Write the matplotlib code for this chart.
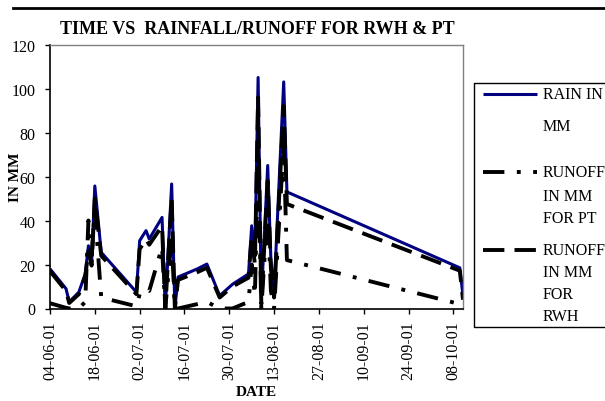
import numpy as np
import pandas as pd
import matplotlib
matplotlib.use('Agg')
import matplotlib.pyplot as plt
import matplotlib.dates as mdates
from matplotlib.lines import Line2D

matplotlib.rc('font', family='Liberation Serif', size=11.5)

# values (mm)
dates = ['2001-06-04', '2001-06-09', '2001-06-10', '2001-06-13', '2001-06-15',
         '2001-06-16', '2001-06-17', '2001-06-18', '2001-06-20', '2001-07-01',
         '2001-07-02', '2001-07-04', '2001-07-05', '2001-07-09', '2001-07-10',
         '2001-07-12', '2001-07-13', '2001-07-14', '2001-07-20', '2001-07-23',
         '2001-07-27', '2001-07-31', '2001-08-05', '2001-08-06', '2001-08-07',
         '2001-08-08', '2001-08-09', '2001-08-11', '2001-08-12', '2001-08-13',
         '2001-08-16', '2001-08-17', '2001-10-10', '2001-10-11']
rain = [18, 9, 3, 7.4, 15.7, 28.5, 21, 55.7, 25.5, 7.4,
        30.8, 35.4, 31.6, 41.4, 0, 56.6, 0, 14.3, 18, 20.2,
        5.8, 11, 15.7, 37.6, 24, 105, 4, 65, 22, 8,
        103, 53, 18.5, 5.8]
runoff_pt = [2.4, 0.3, 0, 0, 3, 40, 24, 45, 5, 1,
             6.5, 9, 8, 28, 0, 32, 0, 0, 2, 3,
             0, 0, 3, 20, 6, 70, 0, 45, 8, 0,
             75, 22, 2, 0]
runoff_rwh = [17, 8, 2.5, 6.5, 14.5, 26, 19.5, 50, 24, 6.5,
              27, 31.5, 29, 37.5, 0, 50, 0, 13, 16.5, 18.5,
              5, 10, 14, 33, 20, 96, 2, 58, 18, 5,
              92, 47.5, 17.2, 4]

labels = ['RAIN IN\nMM', 'RUNOFF\nIN MM\nFOR PT', 'RUNOFF\nIN MM\nFOR\nRWH']
title = 'TIME VS  RAINFALL/RUNOFF FOR RWH & PT'

W, H = 605., 402.


def fx(px):
    return px / W


def fy(py):
    return 1. - py / H


def plotChart():
    x = pd.to_datetime(dates)
    styles = [
        dict(color='#000080', lw=2.2, ls='-'),
        dict(color='black', lw=2.8, ls=(0, (5.5, 3.2, 1.0, 3.2))),
        dict(color='black', lw=2.8, ls=(0, (5.5, 2.6))),
    ]

    fig = plt.figure(figsize=(W / 100, H / 100), dpi=100)
    ax = fig.add_axes([fx(50), fy(309.5), fx(463) - fx(50), fy(45.5) - fy(309.5)])

    for y, st in zip([rain, runoff_pt, runoff_rwh], styles):
        ax.plot(x, y, solid_capstyle='butt', dash_capstyle='butt', **st)

    ax.set_ylim(0, 120)
    ax.set_yticks(np.arange(0, 121, 20))
    ax.set_xlim(pd.Timestamp('2001-06-04'), pd.Timestamp('2001-10-11'))
    ax.set_xticks(pd.date_range('2001-06-04', '2001-10-08', freq='14D'))
    ax.xaxis.set_major_formatter(mdates.DateFormatter('%d-%m-%y'))
    ax.tick_params(axis='x', rotation=90, direction='out', length=3.6, width=1, pad=5)
    ax.tick_params(axis='y', direction='out', length=3.6, width=1, pad=7)

    for s in ['left', 'bottom']:
        ax.spines[s].set_color('black')
        ax.spines[s].set_linewidth(1.2)
    for s in ['top', 'right']:
        ax.spines[s].set_color('#808080')
        ax.spines[s].set_linewidth(1)

    ax.set_ylabel('IN MM', fontweight='bold', fontsize=11)
    ax.yaxis.set_label_coords(-0.068, 0.5)
    ax.set_xlabel('DATE', fontweight='bold', fontsize=11)
    ax.xaxis.set_label_coords(0.5, -0.29)

    fig.text(fx(257), fy(29), title, ha='center', va='center',
             fontweight='bold', fontsize=13)

    # chart border (top edge only visible)
    fig.add_artist(Line2D([fx(13), 1.], [fy(9), fy(9)], transform=fig.transFigure,
                          color='black', lw=2))

    # legend box on the right, its right side runs off the picture
    fig.add_artist(Line2D([1.02, fx(474), fx(474), 1.02],
                          [fy(84), fy(84), fy(328), fy(328)],
                          transform=fig.transFigure, color='black', lw=1))
    line_y = [95, 173, 251]
    text_y = [[95, 127], [173, 197, 219], [251, 273, 295, 317]]
    for st, ly, lab, ty in zip(styles, line_y, labels, text_y):
        fig.add_artist(Line2D([fx(483), fx(537)], [fy(ly), fy(ly)],
                              transform=fig.transFigure, solid_capstyle='butt',
                              dash_capstyle='butt', **st))
        for t, yy in zip(lab.split('\n'), ty):
            fig.text(fx(543), fy(yy), t, ha='left', va='center', fontsize=11.5)

    fig.savefig('out.png', dpi=100)


if __name__ == '__main__':
    plotChart()
